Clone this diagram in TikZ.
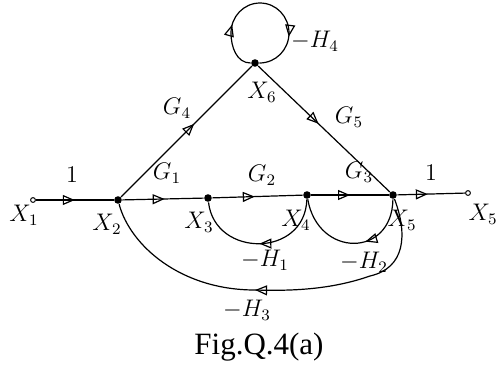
\documentclass[tikz,border=0pt]{standalone}
\usepackage{amsmath}
\usepackage{fontspec}
\usepackage{tikz}
\usetikzlibrary{arrows.meta,decorations.markings}
\newfontfamily\capfont{Liberation Serif}

\begin{document}
\begin{tikzpicture}[x=0.5pt,y=-0.5pt,line width=0.6pt,
    >={Triangle[open,length=6pt,width=5pt]},
    sig/.style={circle,fill,inner sep=0pt,minimum size=3.8pt},
    term/.style={circle,draw,line width=0.5pt,inner sep=0pt,minimum size=2.4pt},
    lbl/.style={font=\large},
    branch/.style={postaction={decorate},
      decoration={markings,mark=at position #1 with {\arrow{>}}}},
    branch/.default=0.5]
  \useasboundingbox (0,0) rectangle (499,366);
  % signal nodes
  \node[term] (x1) at (33,200) {};
  \node[sig] (x2) at (118,200) {};
  \node[sig] (x3) at (208,198) {};
  \node[sig] (x4) at (307,195) {};
  \node[sig] (x5) at (393,195) {};
  \node[term] (x5o) at (468,193) {};
  \node[sig] (x6) at (255,63) {};
  % forward branches
  \draw[branch] (x1) -- (x2);
  \draw[branch=0.52] (x2) -- (x3);
  \draw[branch=0.47] (x3) -- (x4);
  \draw[branch] (x4) -- (x5);
  \draw[branch=0.45] (x5) -- (x5o);
  \draw[branch=0.56] (x2) -- (x6);
  \draw[branch=0.46] (x6) -- (x5);
  % self loop at x6
  \draw[postaction={decorate},decoration={markings,
      mark=at position 0.27 with {\arrow{>}},
      mark=at position 0.76 with {\arrow{>}}}]
    (x6) to[out=180,in=270] (231,33) to[out=90,in=180] (260,3)
    to[out=0,in=90] (289,33) to[out=270,in=0] (x6);
  % feedback branches
  \draw[branch] (x4) .. controls (305,258) and (215,258) .. (x3);
  \draw[branch=0.4] (x5) .. controls (392,258) and (318,258) .. (x4);
  \draw[branch=0.55] (x5) .. controls (408,235) and (405,268) .. (370,276)
    .. controls (330,290) and (290,291) .. (255,290)
    .. controls (180,290) and (130,245) .. (x2);
  % gains
  \node[lbl] (g01) at (72,175) {$1$};
  \node[lbl] (g1) at (167,173) {$G_1$};
  \node[lbl] (g2) at (262,175) {$G_2$};
  \node[lbl] (g3) at (359,172) {$G_3$};
  \node[lbl] (g02) at (431,173) {$1$};
  \node[lbl] (g4) at (177,108) {$G_4$};
  \node[lbl] (g5) at (349,117) {$G_5$};
  \node[lbl] (h4) at (315,41) {$-H_4$};
  \node[lbl] (h1) at (265,260) {$-H_1$};
  \node[lbl] (h2) at (364,262) {$-H_2$};
  \node[lbl] (h3) at (247,310) {$-H_3$};
  % node names
  \node[lbl] (n1) at (24,215) {$X_1$};
  \node[lbl] (n2) at (107,224) {$X_2$};
  \node[lbl] (n3) at (199,222) {$X_3$};
  \node[lbl] (n4) at (296,220) {$X_4$};
  \node[lbl] (n5) at (402,220) {$X_5$};
  \node[lbl] (n5o) at (483,214) {$X_5$};
  \node[lbl] (n6) at (262,92) {$X_6$};
  \node[font=\capfont\fontsize{15.5}{18}\selectfont] (cap) at (259,347) {Fig.Q.4(a)};
\end{tikzpicture}
\end{document}
